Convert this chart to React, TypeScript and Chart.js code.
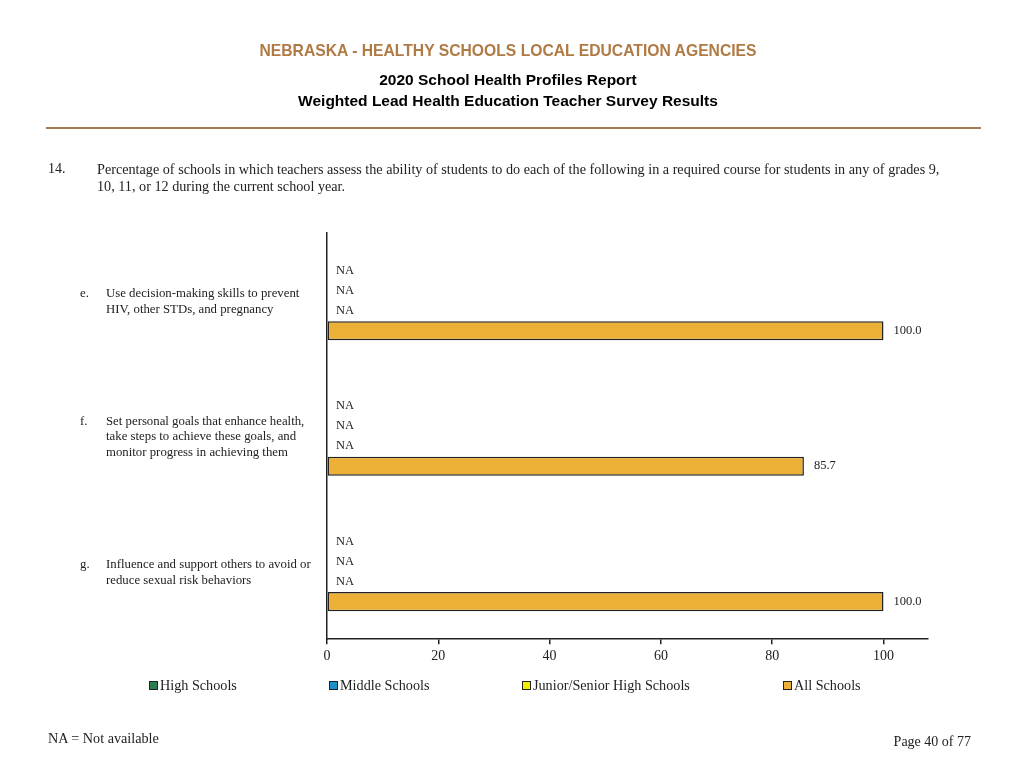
import { useEffect, useRef } from 'react';
import { Chart, registerables } from 'chart.js';

Chart.register(...registerables);

const CATEGORY_LETTERS = ['e.', 'f.', 'g.'];
const CATEGORY_LINES = [
  ['Use decision-making skills to prevent', 'HIV, other STDs, and pregnancy'],
  ['Set personal goals that enhance health,', 'take steps to achieve these goals, and', 'monitor progress in achieving them'],
  ['Influence and support others to avoid or', 'reduce sexual risk behaviors'],
];
const SERIES_NAMES = ['High Schools', 'Middle Schools', 'Junior/Senior High Schools', 'All Schools'];
const HIGH_SCHOOLS: (number | null)[] = [null, null, null];
const MIDDLE_SCHOOLS: (number | null)[] = [null, null, null];
const JUNIOR_SENIOR: (number | null)[] = [null, null, null];
const ALL_SCHOOLS: (number | null)[] = [100.0, 85.7, 100.0];
const X_TICKS = [0, 20, 40, 60, 80, 100];

const COLORS = ['#2e7d4f', '#1e90c8', '#f2ee00', '#ebb035'];
const SERIF = '"Liberation Serif", "Times New Roman", serif';
const SANS = '"Liberation Sans", Arial, sans-serif';

// draws "NA" or the value next to each bar, and the item letters/text on the left
const labelPlugin = {
  id: 'barLabels',
  afterDatasetsDraw(chart: Chart) {
    const { ctx } = chart;
    const xs = chart.scales.x;
    const ys = chart.scales.y;
    ctx.save();
    ctx.fillStyle = '#222';
    ctx.font = `12.5px ${SERIF}`;
    ctx.textBaseline = 'middle';
    ctx.textAlign = 'left';
    chart.data.datasets.forEach((ds, di) => {
      const meta = chart.getDatasetMeta(di);
      meta.data.forEach((el: any, i) => {
        const v = ds.data[i] as number | null;
        const y = el.y;
        if (v == null) {
          ctx.fillText('NA', xs.getPixelForValue(0) + 9, y);
        } else {
          ctx.fillText(v.toFixed(1), xs.getPixelForValue(v) + 10, y);
        }
      });
    });
    ctx.font = `12.8px ${SERIF}`;
    CATEGORY_LINES.forEach((lines, i) => {
      const cy = ys.getPixelForValue(i) + 1;
      const top = cy - ((lines.length - 1) * 15.5) / 2;
      ctx.fillText(CATEGORY_LETTERS[i], 80, top);
      lines.forEach((line, k) => ctx.fillText(line, 106, top + k * 15.5));
    });
    ctx.restore();
  },
};

function BarChart() {
  const canvasRef = useRef<HTMLCanvasElement>(null);

  useEffect(() => {
    if (!canvasRef.current) return;
    const series = [HIGH_SCHOOLS, MIDDLE_SCHOOLS, JUNIOR_SENIOR, ALL_SCHOOLS];
    const chart = new Chart(canvasRef.current, {
      type: 'bar',
      data: {
        labels: CATEGORY_LETTERS,
        datasets: series.map((data, i) => ({
          label: SERIES_NAMES[i],
          data,
          backgroundColor: COLORS[i],
          borderColor: '#222',
          borderWidth: 1.5,
          borderSkipped: false,
          categoryPercentage: 0.593,
          barPercentage: 0.95,
        })),
      },
      options: {
        indexAxis: 'y',
        animation: false,
        responsive: false,
        layout: { padding: { left: 319, top: 233, right: 96, bottom: 99 } },
        scales: {
          x: {
            min: 0,
            max: 108,
            afterBuildTicks: (scale) => {
              scale.ticks = X_TICKS.map((value) => ({ value }));
            },
            border: { display: true, color: '#222', width: 1.5 },
            grid: { drawOnChartArea: false, drawTicks: true, tickLength: 5, color: '#222', lineWidth: 1.5 },
            ticks: { color: '#222', padding: 4, font: { family: SERIF, size: 14 }, maxRotation: 0 },
          },
          y: {
            border: { display: true, color: '#222', width: 1.5 },
            grid: { display: false },
            ticks: { display: false },
          },
        },
        plugins: {
          legend: { display: false },
          tooltip: { enabled: false },
        },
      },
      plugins: [labelPlugin],
    });
    return () => chart.destroy();
  }, []);

  return (
    <canvas
      ref={canvasRef}
      width={1024}
      height={768}
      style={{ position: 'absolute', left: 0, top: 0, width: 1024, height: 768 }}
    />
  );
}

const LEGEND_X = [149, 329, 522, 783];

export default function App() {
  return (
    <div style={{ position: 'absolute', left: 0, top: 0, width: 1024, height: 768, background: '#fff', overflow: 'hidden' }}>
      <BarChart />
      <div style={{ position: 'absolute', left: 0, width: 1016, top: 42, textAlign: 'center', font: `bold 15.7px ${SANS}`, color: '#b07a45' }}>
        NEBRASKA - HEALTHY SCHOOLS LOCAL EDUCATION AGENCIES
      </div>
      <div style={{ position: 'absolute', left: 0, width: 1016, top: 69, textAlign: 'center', font: `bold 15.5px ${SANS}`, color: '#000', lineHeight: '21px' }}>
        2020 School Health Profiles Report
        <br />
        Weighted Lead Health Education Teacher Survey Results
      </div>
      <div style={{ position: 'absolute', left: 46, width: 935, top: 127, height: 2, background: '#a87850' }} />
      <div style={{ position: 'absolute', left: 48, top: 161, font: `14px ${SERIF}`, color: '#222' }}>14.</div>
      <div style={{ position: 'absolute', left: 97, top: 161, width: 900, font: `14.2px ${SERIF}`, color: '#222', lineHeight: '17px' }}>
        Percentage of schools in which teachers assess the ability of students to do each of the following in a required course for students in any of grades 9,
        <br />
        10, 11, or 12 during the current school year.
      </div>
      {SERIES_NAMES.map((name, i) => (
        <div key={name} style={{ position: 'absolute', left: LEGEND_X[i], top: 677, font: `14.2px ${SERIF}`, color: '#222', display: 'flex', alignItems: 'center', whiteSpace: 'nowrap' }}>
          <span style={{ display: 'inline-block', width: 7, height: 7, background: COLORS[i], border: '1.5px solid #222', marginRight: 2 }} />
          {name}
        </div>
      ))}
      <div style={{ position: 'absolute', left: 48, top: 730, font: `14.2px ${SERIF}`, color: '#222' }}>NA = Not available</div>
      <div style={{ position: 'absolute', right: 53, top: 734, font: `14px ${SERIF}`, color: '#222' }}>Page 40 of 77</div>
    </div>
  );
}
